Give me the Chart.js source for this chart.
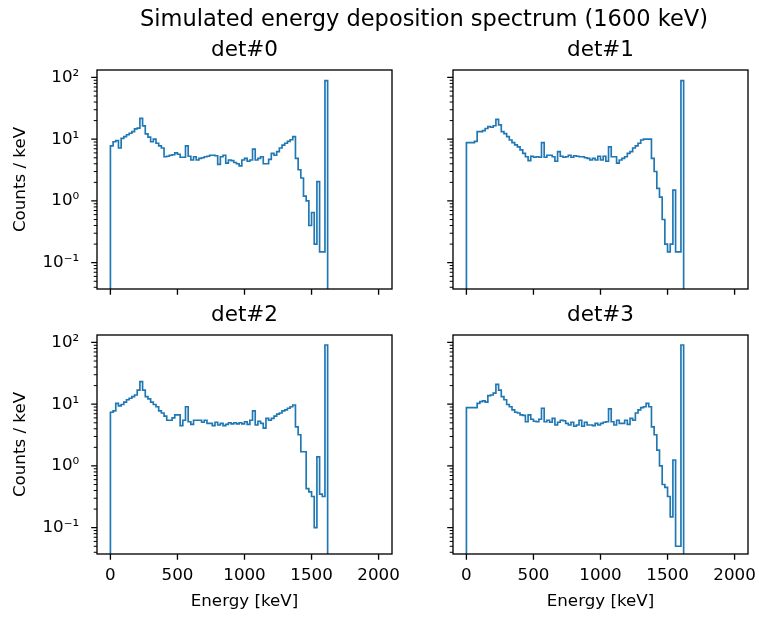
<!DOCTYPE html>
<html lang="en">
<head>
<meta charset="UTF-8">
<title>Simulated energy deposition spectrum</title>
<script src="https://cdn.jsdelivr.net/npm/chart.js/dist/chart.umd.min.js"></script>
<style>
  body { margin: 0; background: #fff; }
  #wrap { position: relative; width: 759px; height: 618px; }
  #wrap canvas { position: absolute; left: 0; top: 0; }
</style>
</head>
<body>
<div id="wrap">
  <canvas id="det0" width="759" height="618"></canvas>
  <canvas id="det1" width="759" height="618"></canvas>
  <canvas id="det2" width="759" height="618"></canvas>
  <canvas id="det3" width="759" height="618"></canvas>
</div>
<script>
// histogram binning (keV)
const binStart = 0;
const binWidth = 20;

// counts / keV per 20 keV bin, bins 0 .. 1620 keV (nothing above)
const det0 = [7.8, 9.1, 9.5, 7.2, 10.3, 11.0, 11.8, 12.5, 13.3, 14.7,
              15.1, 21.8, 16.4, 12.2, 10.8, 9.1, 10.0, 8.6, 7.8, 7.2,
              5.2, 5.3, 5.5, 5.6, 6.0, 5.7, 5.1, 5.1, 7.8, 5.3,
              4.6, 5.2, 4.6, 4.9, 5.0, 5.2, 5.3, 5.5, 5.5, 5.4,
              3.9, 5.2, 5.5, 4.1, 4.6, 4.5, 4.2, 4.0, 3.7, 4.6,
              4.9, 4.4, 4.6, 6.9, 4.6, 4.9, 5.2, 4.0, 4.0, 4.7,
              5.9, 5.5, 6.3, 7.2, 8.0, 8.6, 9.2, 9.8, 11.0, 4.9,
              3.2, 2.35, 1.2, 1.0, 0.4, 0.65, 0.2, 2.05, 0.15, 0.15,
              89];
const det1 = [8.8, 8.8, 8.8, 9.2, 13.3, 13.3, 13.8, 14.9, 16.0, 15.6,
              16.5, 21.0, 17.1, 13.3, 12.3, 11.0, 9.7, 8.8, 8.1, 7.5,
              6.7, 5.9, 5.2, 4.5, 5.3, 5.1, 5.2, 5.1, 8.8, 5.1,
              5.5, 5.5, 5.2, 4.4, 6.3, 5.3, 5.1, 5.2, 5.5, 5.1,
              5.4, 5.3, 5.2, 5.2, 5.0, 4.9, 4.6, 4.9, 4.6, 5.3,
              4.6, 5.3, 4.4, 7.5, 5.2, 5.2, 4.1, 4.6, 4.9, 5.2,
              5.9, 6.3, 7.2, 7.8, 8.6, 9.7, 10.0, 10.0, 10.0, 4.9,
              3.0, 1.6, 1.15, 0.5, 0.2, 0.15, 0.2, 1.5, 0.15, 0.15,
              89];
const det2 = [7.4, 7.8, 10.3, 9.4, 9.9, 10.8, 11.8, 12.5, 13.3, 14.1,
              16.9, 23.2, 16.9, 13.3, 12.2, 10.8, 9.9, 9.1, 7.8, 7.2,
              6.4, 5.5, 5.5, 6.0, 6.7, 6.7, 4.5, 5.5, 9.1, 5.2,
              4.7, 5.5, 5.5, 5.5, 5.1, 5.5, 4.9, 4.9, 4.5, 5.1,
              4.6, 4.9, 4.5, 4.7, 5.0, 4.8, 5.0, 4.8, 5.0, 4.8,
              5.2, 4.7, 5.5, 7.8, 4.6, 5.3, 4.9, 4.1, 5.9, 5.5,
              5.9, 6.4, 6.9, 7.2, 7.8, 8.1, 8.6, 9.1, 9.7, 4.3,
              3.2, 1.7, 1.7, 0.43, 0.38, 0.32, 0.1, 1.4, 0.35, 0.32,
              91];
const det3 = [8.8, 8.8, 8.8, 8.8, 10.3, 11.0, 11.3, 10.8, 13.8, 14.1,
              15.1, 21.0, 16.9, 13.3, 11.8, 9.9, 9.1, 8.1, 7.4, 7.2,
              6.7, 6.6, 5.2, 6.7, 5.7, 5.3, 5.2, 5.7, 8.6, 5.2,
              5.5, 5.1, 5.9, 4.6, 5.1, 5.5, 5.4, 4.9, 4.6, 5.1,
              4.4, 4.6, 5.5, 4.4, 5.1, 4.6, 4.6, 4.5, 4.9, 4.6,
              4.9, 5.1, 5.2, 8.4, 5.2, 4.6, 5.5, 4.9, 4.9, 5.5,
              4.7, 5.9, 5.5, 7.2, 8.1, 8.8, 9.1, 10.3, 9.1, 4.3,
              3.2, 1.8, 1.0, 0.5, 0.45, 0.32, 0.15, 1.25, 0.05, 0.05,
              91];

const panelTitles = ['det#0', 'det#1', 'det#2', 'det#3'];
const suptitle = 'Simulated energy deposition spectrum (1600 keV)';
const xLabel = 'Energy [keV]';
const yLabel = 'Counts / keV';

const xTicks = [0, 500, 1000, 1500, 2000];
const xTickLabels = ['0', '500', '1000', '1500', '2000'];
const yTicks = [0.1, 1, 10, 100];
const yTickLabels = ['10\u207B\u00B9', '10\u2070', '10\u00B9', '10\u00B2'];
const yMinorSteps = [2, 3, 4, 5, 6, 7, 8, 9];

// shared axis limits (sharex / sharey)
const xMin = -100, xMax = 2100;
const yMin = 0.0375, yMax = 132;
const floorValue = 1e-3; // zero-count edge, drawn below the axis

const FONT = "'DejaVu Sans', sans-serif";
const yAxisWidth = 60;
const xAxisHeight = 40;

// plot areas in page pixels
const panels = [
  { id: 'det0', data: det0, L: 97,  T: 70,  R: 392, B: 289, left: true,  bottom: false },
  { id: 'det1', data: det1, L: 453, T: 70,  R: 748, B: 289, left: false, bottom: false },
  { id: 'det2', data: det2, L: 97,  T: 335, R: 392, B: 554, left: true,  bottom: true },
  { id: 'det3', data: det3, L: 453, T: 335, R: 748, B: 554, left: false, bottom: true }
];

const yMinorTicks = [];
[0.01, 0.1, 1, 10, 100].forEach(dec => {
  yMinorSteps.forEach(m => {
    const v = dec * m;
    if (v > yMin && v < yMax) yMinorTicks.push(v);
  });
});

function stepPoints(values) {
  const pts = [{ x: binStart, y: floorValue }];
  values.forEach((v, i) => pts.push({ x: binStart + i * binWidth, y: v }));
  pts.push({ x: binStart + values.length * binWidth, y: floorValue });
  return pts;
}

function decor(p, idx) {
  return {
    id: 'decor' + idx,
    afterDraw(chart) {
      const ctx = chart.ctx;
      const a = chart.chartArea;
      const xs = chart.scales.x, ys = chart.scales.y;
      ctx.save();
      ctx.strokeStyle = '#000';
      ctx.fillStyle = '#000';

      // major ticks
      ctx.lineWidth = 1.33;
      ctx.beginPath();
      xTicks.forEach(v => {
        const px = xs.getPixelForValue(v);
        ctx.moveTo(px, a.bottom);
        ctx.lineTo(px, a.bottom + 5.8);
      });
      yTicks.forEach(v => {
        const py = ys.getPixelForValue(v);
        ctx.moveTo(a.left, py);
        ctx.lineTo(a.left - 5.8, py);
      });
      ctx.stroke();

      // minor ticks
      ctx.lineWidth = 1;
      ctx.beginPath();
      yMinorTicks.forEach(v => {
        const py = ys.getPixelForValue(v);
        ctx.moveTo(a.left, py);
        ctx.lineTo(a.left - 3.3, py);
      });
      ctx.stroke();

      // frame
      ctx.lineWidth = 1.33;
      ctx.strokeRect(a.left, a.top, a.right - a.left, a.bottom - a.top);

      // panel title
      ctx.font = '21.5px ' + FONT;
      ctx.textAlign = 'center';
      ctx.textBaseline = 'alphabetic';
      ctx.fillText(panelTitles[idx], (a.left + a.right) / 2, a.top - 14);

      if (idx === 0) {
        ctx.font = '22.5px ' + FONT;
        ctx.fillText(suptitle, 424, 26);
      }

      ctx.font = '16.7px ' + FONT;
      if (p.bottom) {
        ctx.textBaseline = 'middle';
        ctx.fillText(xLabel, (a.left + a.right) / 2, 602);
      }
      if (p.left) {
        ctx.translate(21, (a.top + a.bottom) / 2);
        ctx.rotate(-Math.PI / 2);
        ctx.textBaseline = 'middle';
        ctx.fillText(yLabel, 0, 0);
      }
      ctx.restore();
    }
  };
}

panels.forEach((p, idx) => {
  new Chart(document.getElementById(p.id), {
    type: 'line',
    data: {
      datasets: [{
        data: stepPoints(p.data),
        borderColor: '#1f77b4',
        borderWidth: 1.67,
        pointRadius: 0,
        stepped: 'before',
        fill: false,
        tension: 0
      }]
    },
    options: {
      responsive: false,
      animation: false,
      events: [],
      layout: {
        padding: {
          left: p.L - yAxisWidth,
          top: p.T,
          right: 759 - p.R,
          bottom: 618 - p.B - xAxisHeight
        }
      },
      plugins: {
        legend: { display: false },
        tooltip: { enabled: false },
        title: { display: false }
      },
      scales: {
        x: {
          type: 'linear',
          min: xMin,
          max: xMax,
          afterBuildTicks: s => { s.ticks = xTicks.map(v => ({ value: v })); },
          afterFit: s => { s.height = xAxisHeight; s.paddingLeft = 0; s.paddingRight = 0; },
          grid: { display: false, drawTicks: true, tickLength: 5.8 },
          border: { display: false },
          ticks: {
            autoSkip: false,
            maxRotation: 0,
            padding: 6,
            color: '#000',
            font: { family: FONT, size: 16.7 },
            callback: (v, i) => p.bottom ? xTickLabels[i] : ''
          }
        },
        y: {
          type: 'logarithmic',
          min: yMin,
          max: yMax,
          afterBuildTicks: s => { s.ticks = yTicks.map(v => ({ value: v })); },
          afterFit: s => { s.width = yAxisWidth; s.paddingTop = 0; s.paddingBottom = 0; },
          grid: { display: false, drawTicks: true, tickLength: 5.8 },
          border: { display: false },
          ticks: {
            autoSkip: false,
            padding: 12,
            color: '#000',
            font: { family: FONT, size: 16.7 },
            callback: (v, i) => p.left ? yTickLabels[i] : ''
          }
        }
      }
    },
    plugins: [decor(p, idx)]
  });
});
</script>
</body>
</html>
